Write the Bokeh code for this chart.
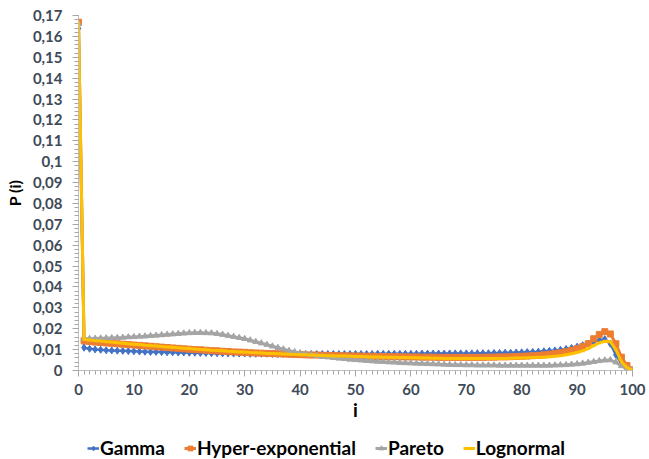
from bokeh.plotting import figure
from bokeh.layouts import column
from bokeh.models import FixedTicker, CustomJSTickFormatter, Legend, LegendItem, Range1d
from bokeh.embed import file_html
from bokeh.resources import INLINE

i_values = list(range(101))

gamma = [0.1638, 0.0109, 0.0104, 0.0101, 0.0099, 0.0097, 0.0096, 0.0095, 0.0094, 0.0093,
         0.0092, 0.0091, 0.0090, 0.0089, 0.0089, 0.0088, 0.0087, 0.0087, 0.0086, 0.0086,
         0.0085, 0.0085, 0.0084, 0.0084, 0.0083, 0.0083, 0.0082, 0.0082, 0.0081, 0.0081,
         0.0081, 0.0080, 0.0080, 0.0080, 0.0080, 0.0079, 0.0079, 0.0079, 0.0079, 0.0079,
         0.0079, 0.0079, 0.0079, 0.0079, 0.0079, 0.0079, 0.0079, 0.0079, 0.0079, 0.0079,
         0.0079, 0.0079, 0.0079, 0.0079, 0.0080, 0.0080, 0.0080, 0.0080, 0.0080, 0.0080,
         0.0080, 0.0080, 0.0081, 0.0081, 0.0081, 0.0081, 0.0081, 0.0082, 0.0082, 0.0082,
         0.0082, 0.0082, 0.0083, 0.0083, 0.0083, 0.0084, 0.0084, 0.0085, 0.0085, 0.0086,
         0.0087, 0.0088, 0.0089, 0.0090, 0.0092, 0.0094, 0.0096, 0.0099, 0.0103, 0.0108,
         0.0114, 0.0121, 0.0129, 0.0138, 0.0145, 0.0150, 0.0128, 0.0075, 0.0033, 0.0010,
         0.0001]

hyper = [0.1668, 0.0142, 0.0139, 0.0136, 0.0134, 0.0132, 0.0130, 0.0128, 0.0126, 0.0124,
         0.0122, 0.0120, 0.0118, 0.0116, 0.0114, 0.0112, 0.0110, 0.0108, 0.0106, 0.0104,
         0.0102, 0.0100, 0.0099, 0.0097, 0.0095, 0.0094, 0.0092, 0.0091, 0.0089, 0.0088,
         0.0087, 0.0085, 0.0084, 0.0083, 0.0082, 0.0081, 0.0080, 0.0079, 0.0078, 0.0077,
         0.0076, 0.0075, 0.0074, 0.0074, 0.0073, 0.0072, 0.0072, 0.0071, 0.0070, 0.0070,
         0.0069, 0.0069, 0.0068, 0.0068, 0.0067, 0.0067, 0.0066, 0.0066, 0.0066, 0.0065,
         0.0065, 0.0065, 0.0064, 0.0064, 0.0064, 0.0063, 0.0063, 0.0063, 0.0063, 0.0063,
         0.0063, 0.0063, 0.0063, 0.0063, 0.0064, 0.0064, 0.0065, 0.0065, 0.0066, 0.0067,
         0.0068, 0.0069, 0.0071, 0.0072, 0.0075, 0.0078, 0.0081, 0.0085, 0.0090, 0.0096,
         0.0104, 0.0114, 0.0128, 0.0152, 0.0172, 0.0186, 0.0175, 0.0128, 0.0064, 0.0024,
         0.0003]

pareto = [0.1660, 0.0152, 0.0152, 0.0153, 0.0154, 0.0155, 0.0156, 0.0157, 0.0158, 0.0160,
          0.0161, 0.0163, 0.0164, 0.0166, 0.0168, 0.0170, 0.0172, 0.0174, 0.0176, 0.0178,
          0.0180, 0.0181, 0.0181, 0.0180, 0.0179, 0.0176, 0.0172, 0.0167, 0.0162, 0.0157,
          0.0152, 0.0145, 0.0138, 0.0131, 0.0124, 0.0116, 0.0109, 0.0102, 0.0095, 0.0089,
          0.0084, 0.0079, 0.0075, 0.0071, 0.0067, 0.0064, 0.0061, 0.0058, 0.0056, 0.0053,
          0.0051, 0.0049, 0.0047, 0.0045, 0.0043, 0.0042, 0.0040, 0.0039, 0.0037, 0.0036,
          0.0035, 0.0034, 0.0033, 0.0032, 0.0031, 0.0030, 0.0029, 0.0028, 0.0027, 0.0027,
          0.0026, 0.0026, 0.0025, 0.0025, 0.0025, 0.0025, 0.0024, 0.0024, 0.0024, 0.0024,
          0.0024, 0.0024, 0.0024, 0.0024, 0.0024, 0.0024, 0.0025, 0.0026, 0.0027, 0.0029,
          0.0031, 0.0034, 0.0038, 0.0042, 0.0046, 0.0049, 0.0050, 0.0040, 0.0022, 0.0008,
          0.0002]

lognormal = [0.1668, 0.0148, 0.0146, 0.0143, 0.0141, 0.0138, 0.0136, 0.0133, 0.0131, 0.0128,
             0.0126, 0.0124, 0.0121, 0.0119, 0.0117, 0.0115, 0.0113, 0.0111, 0.0109, 0.0107,
             0.0105, 0.0103, 0.0101, 0.0099, 0.0097, 0.0096, 0.0094, 0.0092, 0.0091, 0.0089,
             0.0088, 0.0086, 0.0085, 0.0084, 0.0082, 0.0081, 0.0080, 0.0079, 0.0078, 0.0077,
             0.0076, 0.0075, 0.0074, 0.0073, 0.0072, 0.0071, 0.0070, 0.0070, 0.0069, 0.0068,
             0.0067, 0.0067, 0.0066, 0.0065, 0.0065, 0.0064, 0.0063, 0.0063, 0.0062, 0.0062,
             0.0061, 0.0061, 0.0060, 0.0060, 0.0059, 0.0059, 0.0058, 0.0058, 0.0058, 0.0057,
             0.0057, 0.0057, 0.0057, 0.0057, 0.0057, 0.0057, 0.0058, 0.0058, 0.0059, 0.0060,
             0.0060, 0.0061, 0.0062, 0.0063, 0.0064, 0.0066, 0.0068, 0.0071, 0.0075, 0.0080,
             0.0086, 0.0094, 0.0105, 0.0119, 0.0132, 0.0140, 0.0138, 0.0100, 0.0042, 0.0014,
             0.0003]

series_names = ["Gamma", "Hyper-exponential", "Pareto", "Lognormal"]
x_ticks = [0, 10, 20, 30, 40, 50, 60, 70, 80, 90, 100]
y_ticks = [k / 100 for k in range(18)]

FONT = "Lato"
TICK_COLOR = "#404A58"

p = figure(width=649, height=425, output_backend="svg", toolbar_location=None,
           x_range=Range1d(0, 100), y_range=Range1d(0, 0.17),
           min_border_left=78, min_border_right=17, min_border_top=15, min_border_bottom=55)
p.outline_line_color = None
p.grid.visible = False

styles = [
    dict(color="#4472C4", marker="diamond", size=7, lw=2.5),
    dict(color="#ED7D31", marker="square", size=6, lw=3),
    dict(color="#A5A5A5", marker="triangle", size=6, lw=3),
    dict(color="#FFC000", marker="x", size=4, lw=3),
]
data = [gamma, hyper, pareto, lognormal]

for ys, st in zip(data, styles):
    p.line(i_values, ys, line_color=st["color"], line_width=st["lw"])
    p.scatter(i_values, ys, marker=st["marker"], size=st["size"],
              fill_color=st["color"], line_color=st["color"], line_width=1)

# axes
p.xaxis.ticker = FixedTicker(ticks=x_ticks, minor_ticks=i_values)
p.yaxis.ticker = FixedTicker(ticks=y_ticks, minor_ticks=[k / 500 for k in range(86)])
p.yaxis.formatter = CustomJSTickFormatter(code="""
    return tick.toFixed(2).replace(/0+$/, '').replace(/\\.$/, '').replace('.', ',');
""")
for ax in (p.xaxis, p.yaxis):
    ax.axis_line_color = "#BFBFBF"
    ax.major_tick_line_color = "#A6A6A6"
    ax.minor_tick_line_color = "#A6A6A6"
    ax.major_tick_in = 0
    ax.major_tick_out = 6
    ax.minor_tick_in = 0
    ax.minor_tick_out = 4
    ax.major_label_text_font = FONT
    ax.major_label_text_font_style = "bold"
    ax.major_label_text_font_size = "15px"
    ax.major_label_text_color = TICK_COLOR
    ax.axis_label_text_font = FONT
    ax.axis_label_text_font_style = "bold"
    ax.axis_label_text_color = "black"

p.xaxis.major_label_standoff = 7
p.yaxis.major_label_standoff = 10
p.xaxis.axis_label = "i"
p.xaxis.axis_label_text_font_size = "19px"
p.xaxis.axis_label_standoff = 0
p.yaxis.axis_label = "P (i)"
p.yaxis.axis_label_text_font_size = "16px"
p.yaxis.axis_label_standoff = 6

# legend strip below the chart (its series lie outside its visible range)
lg = figure(width=649, height=34, output_backend="svg", toolbar_location=None,
            x_range=Range1d(0, 100), y_range=Range1d(10, 11),
            x_axis_type=None, y_axis_type=None,
            min_border_left=0, min_border_right=0, min_border_top=0, min_border_bottom=0)
lg.outline_line_color = None
lg.grid.visible = False

items = []
for name, ys, st in zip(series_names, data, styles):
    ln = lg.line(i_values, ys, line_color=st["color"], line_width=st["lw"])
    sc = lg.scatter(i_values, ys, marker=st["marker"], size=st["size"],
                    fill_color=st["color"], line_color=st["color"], line_width=1)
    items.append(LegendItem(label=name, renderers=[ln, sc], index=0))

legend = Legend(items=items, orientation="horizontal", location=(9, 0),
                label_text_font=FONT, label_text_font_style="bold",
                label_text_font_size="19px", label_text_color="black",
                glyph_width=12, glyph_height=20, label_height=20, label_standoff=1,
                spacing=19, padding=0, margin=0,
                border_line_color=None, background_fill_alpha=0)
lg.add_layout(legend, "center")

layout = column(p, lg, spacing=0)
open("out.html", "w").write(file_html(layout, INLINE))
